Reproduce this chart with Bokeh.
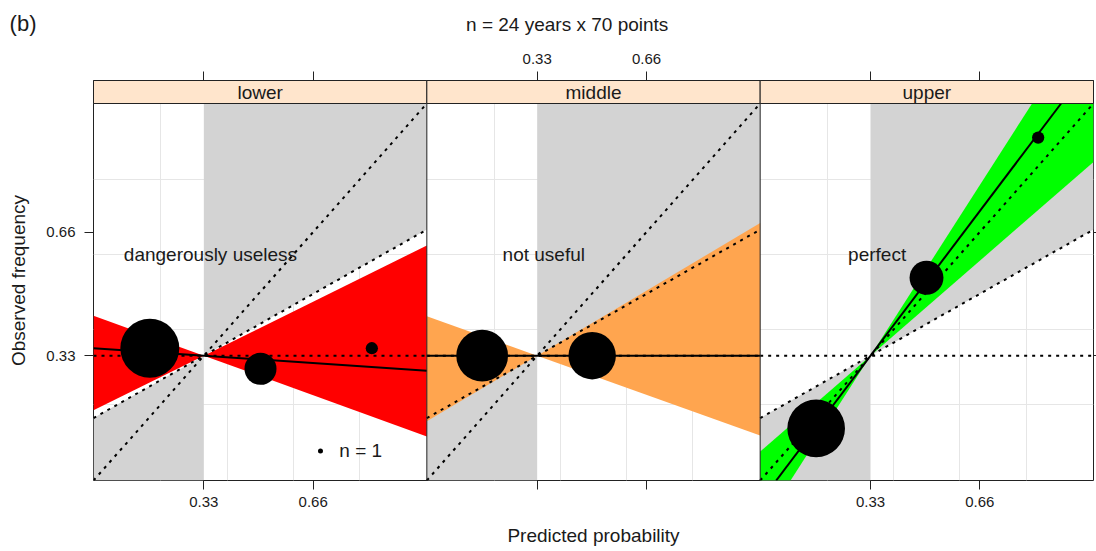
import numpy as np
from bokeh.plotting import figure
from bokeh.layouts import column
from bokeh.models import Range1d, FixedTicker, LinearAxis, Grid, Span
from bokeh.core.properties import value
from bokeh.embed import file_html
from bokeh.resources import INLINE

# ---------------- data ----------------
panels = ["lower", "middle", "upper"]
panel_notes = ["dangerously useless", "not useful", "perfect"]
band_colors = ["#FF0000", "#FFA54F", "#00FF00"]
climatology = 0.33
fit_slopes = [-0.06, 0.0, 1.17]
band_low_slopes = [-0.32, -0.316, 0.768]
band_high_slopes = [0.437, 0.526, 1.38]
point_x = [[0.167, 0.501, 0.837], [0.164, 0.496], [0.166, 0.499, 0.836]]
point_y = [[0.350, 0.295, 0.350], [0.330, 0.330], [0.136, 0.538, 0.912]]
point_n = [[139, 41, 6], [107, 90], [133, 46, 6]]
legend_n = 1
axis_ticks = [0.33, 0.66]
axis_tick_labels = ["0.33", "0.66"]
grid_ticks = [0.2, 0.4, 0.6, 0.8]
main_title = "n = 24 years x 70 points"
panel_tag = "(b)"
x_label = "Predicted probability"
y_label = "Observed frequency"

# ---------------- layout / style ----------------
FONT = "Liberation Sans"
TXT = "#1a1a1a"
EDGE = "#222222"
GRAY = "#D3D3D3"
STRIP_BG = "#FFE5CC"
PAD_X = 0.003
W = 1 + 2 * PAD_X
LO, HI = -PAD_X, 1 + PAD_X
Y0, Y1 = -0.003, 1.003
TOTAL_W = 1096
HDR_H = 40
MAIN_H = 511
MB_L, MB_R, MB_T, MB_B = 93, 3, 40, 71
FRAME_H = MAIN_H - MB_T - MB_B
STRIP_PX = 23
ppu = (FRAME_H - STRIP_PX) / (Y1 - Y0)
YTOP = Y1 + STRIP_PX / ppu
R1 = 2.5  # radius in px of a bubble with n = 1


def offset(i):
    return i * W + PAD_X


def through_pivot(x, s):
    return climatology + s * (x - climatology)


def clip_poly_y(poly, ylo, yhi):
    def clip(pts, keep, yc):
        out = []
        for k in range(len(pts)):
            cur, prev = pts[k], pts[k - 1]

            def inter(a, b):
                t = (yc - a[1]) / (b[1] - a[1])
                return (a[0] + t * (b[0] - a[0]), yc)
            if keep(cur):
                if not keep(prev):
                    out.append(inter(prev, cur))
                out.append(cur)
            elif keep(prev):
                out.append(inter(prev, cur))
        return out
    pts = clip(poly, lambda q: q[1] >= ylo, ylo)
    pts = clip(pts, lambda q: q[1] <= yhi, yhi)
    return pts


def clipped_line(s):
    xa, xb = LO, HI
    if s != 0:
        xs_ = sorted([climatology + (Y0 - climatology) / s, climatology + (Y1 - climatology) / s])
        xa, xb = max(xa, xs_[0]), min(xb, xs_[1])
    return [xa, xb], [through_pivot(xa, s), through_pivot(xb, s)]


# ---------------- header (titles) ----------------
# frame of the header is aligned with the main frame; x range in pixel units of that frame
hdr = figure(width=TOTAL_W, height=HDR_H, x_range=Range1d(MB_L, TOTAL_W - MB_R), y_range=Range1d(HDR_H, 0),
             x_axis_type=None, y_axis_type=None, output_backend="svg", toolbar_location=None,
             min_border_left=MB_L, min_border_right=MB_R, min_border_top=0, min_border_bottom=0)
hdr.outline_line_color = None
hdr.background_fill_color = "white"
hdr.border_fill_color = "white"
hdr.text([566.7], [24], text=[main_title], text_font=value(FONT), text_font_size="19px",
         text_color=TXT, text_align="center", text_baseline="alphabetic")
tag_axis = LinearAxis(ticker=FixedTicker(ticks=[23]), major_label_overrides={23: panel_tag})
tag_axis.axis_line_color = None
tag_axis.major_tick_line_color = None
tag_axis.minor_tick_line_color = None
tag_axis.major_tick_in = 0
tag_axis.major_tick_out = 0
tag_axis.major_label_standoff = 57
tag_axis.major_label_text_font = FONT
tag_axis.major_label_text_font_size = "22px"
tag_axis.major_label_text_color = TXT
hdr.add_layout(tag_axis, "left")

# ---------------- main panels ----------------
p = figure(width=TOTAL_W, height=MAIN_H, x_range=Range1d(0, 3 * W), y_range=Range1d(Y0, YTOP),
           x_axis_type=None, y_axis_type=None, output_backend="svg", toolbar_location=None,
           min_border_left=MB_L, min_border_right=MB_R, min_border_top=MB_T, min_border_bottom=MB_B)
p.outline_line_color = EDGE
p.outline_line_width = 1
p.background_fill_color = "white"
p.border_fill_color = "white"

# grids
gx = [offset(i) + g for i in range(3) for g in grid_ticks]
p.add_layout(Grid(dimension=0, ticker=FixedTicker(ticks=gx), grid_line_color="#E6E6E6", grid_line_width=1))
p.add_layout(Grid(dimension=1, ticker=FixedTicker(ticks=grid_ticks), grid_line_color="#E6E6E6", grid_line_width=1))

# skill regions (gray) and confidence bands
gray_xs, gray_ys = [], []
band_xs, band_ys, band_fill = [], [], []
for i in range(3):
    o = offset(i)
    ns = lambda x: (x + climatology) / 2
    right = [(climatology, climatology), (HI, ns(HI)), (HI, Y1), (climatology, Y1)]
    left = [(LO, Y0), (climatology, Y0), (climatology, climatology), (LO, ns(LO))]
    for poly in (right, left):
        gray_xs.append([q[0] + o for q in poly])
        gray_ys.append([q[1] for q in poly])
    s1, s2 = band_low_slopes[i], band_high_slopes[i]
    ltri = [(LO, through_pivot(LO, s1)), (climatology, climatology), (LO, through_pivot(LO, s2))]
    rtri = [(climatology, climatology), (HI, through_pivot(HI, s2)), (HI, through_pivot(HI, s1))]
    for tri in (ltri, rtri):
        c = clip_poly_y(tri, Y0, Y1)
        band_xs.append([q[0] + o for q in c])
        band_ys.append([q[1] for q in c])
        band_fill.append(band_colors[i])

p.patches(gray_xs, gray_ys, fill_color=GRAY, line_color=None)
p.patches(band_xs, band_ys, fill_color=band_fill, line_color=None)

# reference lines (dotted): perfect reliability, no-skill, climatology
dx, dy = [], []
for i in range(3):
    o = offset(i)
    dx += [[LO + o, HI + o], [LO + o, HI + o], [LO + o, HI + o]]
    dy += [[LO, HI], [(LO + climatology) / 2, (HI + climatology) / 2], [climatology, climatology]]
p.multi_line(dx, dy, line_color="black", line_width=2, line_dash="3 5")

# fitted lines
fx, fy = [], []
for i in range(3):
    xs_, ys_ = clipped_line(fit_slopes[i])
    fx.append([x + offset(i) for x in xs_])
    fy.append(ys_)
p.multi_line(fx, fy, line_color="black", line_width=2)

# bubbles
bx, by, bs = [], [], []
for i in range(3):
    for x, y, n in zip(point_x[i], point_y[i], point_n[i]):
        bx.append(x + offset(i))
        by.append(y)
        bs.append(2 * R1 * np.sqrt(n))
p.scatter(bx, by, size=bs, fill_color="black", line_color="black", line_width=0)

# size key in first panel
p.scatter([offset(0) + 0.682], [0.076], size=[2 * R1 * np.sqrt(legend_n)], fill_color="black", line_color=None)
p.text([offset(0) + 0.739], [0.076], text=[f"n = {legend_n}"], text_font=value(FONT), text_font_size="19px",
       text_color=TXT, text_align="left", text_baseline="middle")

# panel notes
p.text([offset(i) + 0.35 for i in range(3)], [0.60] * 3, text=panel_notes, text_font=value(FONT),
       text_font_size="19px", text_color=TXT, text_align="center", text_baseline="middle")

# panel separators
for i in (1, 2):
    p.add_layout(Span(location=i * W, dimension="height", line_color=EDGE, line_width=1))

# strips
p.quad(left=[i * W for i in range(3)], right=[(i + 1) * W for i in range(3)], bottom=Y1, top=YTOP,
       fill_color=STRIP_BG, line_color=EDGE, line_width=1, level="overlay")
p.text([i * W + W / 2 for i in range(3)], [(Y1 + YTOP) / 2] * 3, text=panels, text_font=value(FONT),
       text_font_size="19px", text_color=TXT, text_align="center", text_baseline="middle", level="overlay")

# axes
xt = [offset(i) + t for i in range(3) for t in axis_ticks]
bottom_labels = {}
top_labels = {}
for i in range(3):
    for t, lab in zip(axis_ticks, axis_tick_labels):
        bottom_labels[offset(i) + t] = lab if i != 1 else ""
        top_labels[offset(i) + t] = lab if i == 1 else ""


def style_axis(ax, standoff):
    ax.axis_line_color = None
    ax.major_tick_line_color = EDGE
    ax.major_tick_in = 0
    ax.major_tick_out = 9
    ax.minor_tick_line_color = None
    ax.major_label_text_font = FONT
    ax.major_label_text_font_size = "15px"
    ax.major_label_text_color = TXT
    ax.major_label_standoff = standoff
    ax.axis_label_text_font = FONT
    ax.axis_label_text_font_size = "19px"
    ax.axis_label_text_font_style = "normal"
    ax.axis_label_text_color = TXT


xb = LinearAxis(ticker=FixedTicker(ticks=xt), major_label_overrides=bottom_labels, axis_label=x_label)
style_axis(xb, 7)
xb.axis_label_standoff = 15
p.add_layout(xb, "below")

xa = LinearAxis(ticker=FixedTicker(ticks=xt), major_label_overrides=top_labels)
style_axis(xa, 8)
p.add_layout(xa, "above")

yl = LinearAxis(ticker=FixedTicker(ticks=axis_ticks),
                major_label_overrides=dict(zip(axis_ticks, axis_tick_labels)), axis_label=y_label)
style_axis(yl, 9)
yl.axis_label_standoff = 14
p.add_layout(yl, "left")

yr = LinearAxis(ticker=FixedTicker(ticks=axis_ticks),
                major_label_overrides={t: "" for t in axis_ticks})
style_axis(yr, 0)
yr.major_tick_out = 3
p.add_layout(yr, "right")

layout = column(hdr, p, spacing=0)
open("out.html", "w").write(file_html(layout, INLINE))
